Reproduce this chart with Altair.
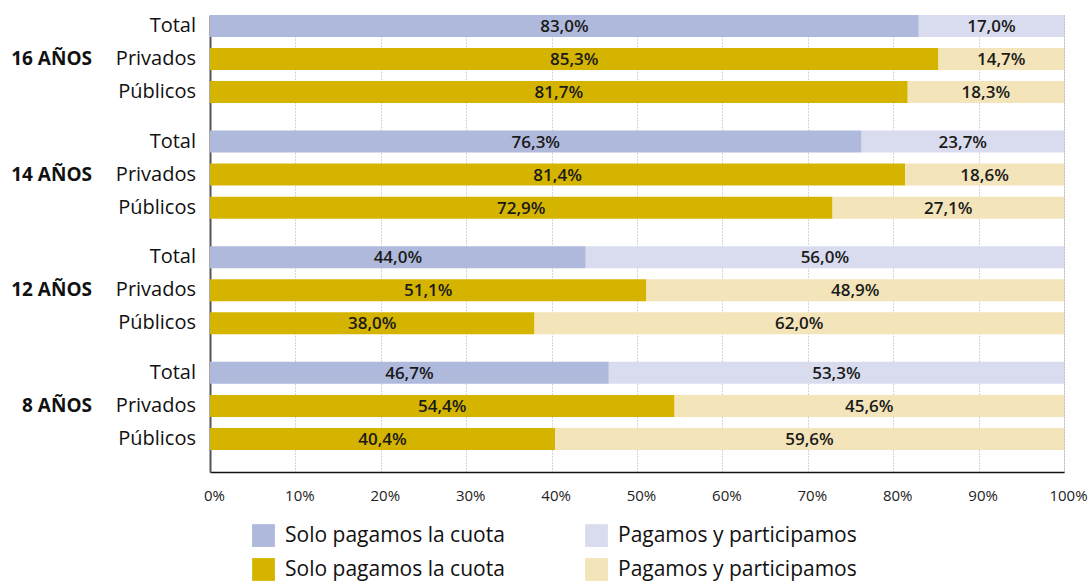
import altair as alt
import pandas as pd

groups = ["16 AÑOS", "14 AÑOS", "12 AÑOS", "8 AÑOS"]
rows = ["Total", "Privados", "Públicos"]
solo = [83.0, 85.3, 81.7, 76.3, 81.4, 72.9, 44.0, 51.1, 38.0, 46.7, 54.4, 40.4]
part = [17.0, 14.7, 18.3, 23.7, 18.6, 27.1, 56.0, 48.9, 62.0, 53.3, 45.6, 59.6]
x_ticks = [0, 10, 20, 30, 40, 50, 60, 70, 80, 90, 100]

keys = ["ts", "tp", "cs", "cp"]
colors = ["#afb9dc", "#d9dcee", "#d5b400", "#f3e4b9"]

GROUP_STEP = 3.5

def fmt(v):
    return f"{v:.1f}".replace(".", ",") + "%"

bar_recs, lab_recs, grp_recs = [], [], []
for gi, g in enumerate(groups):
    for ri, r in enumerate(rows):
        i = gi * 3 + ri
        pos = gi * GROUP_STEP + ri
        tot = r == "Total"
        s, p = solo[i], part[i]
        bar_recs.append(dict(pos=pos, x0=0, x1=s, key="ts" if tot else "cs", mid=s / 2, txt=fmt(s)))
        bar_recs.append(dict(pos=pos, x0=s, x1=s + p, key="tp" if tot else "cp", mid=s + p / 2, txt=fmt(p)))
        lab_recs.append(dict(pos=pos, lab=r))
    grp_recs.append(dict(pos=gi * GROUP_STEP + 1, lab=g))

bars_df = pd.DataFrame(bar_recs)
labs_df = pd.DataFrame(lab_recs)
grps_df = pd.DataFrame(grp_recs)

FONT = "Open Sans"
yscale = alt.Scale(domain=[-0.33, 13.5], reverse=True, nice=False, zero=False, padding=0)

legend = alt.Legend(
    title=None, orient="none", legendX=42, legendY=509, columns=2, direction="horizontal",
    symbolType="square", symbolSize=520, symbolStrokeWidth=0, symbolOpacity=1,
    labelFontSize=21, labelFont=FONT, labelColor="#111", labelOffset=10,
    columnPadding=80, rowPadding=11, labelLimit=400,
    labelExpr="(datum.value == 'ts' || datum.value == 'cs') ? 'Solo pagamos la cuota' : 'Pagamos y participamos'",
)

bars = alt.Chart(bars_df).mark_bar(size=22).encode(
    x=alt.X("x0:Q", scale=alt.Scale(domain=[0, 100], nice=False, padding=0),
            axis=alt.Axis(values=x_ticks, labelExpr="datum.value + '%'", title=None,
                          ticks=False, grid=True, gridDash=[1, 2], gridColor="#aaa",
                          gridWidth=1, domainColor="#111", domainWidth=1.5,
                          labelFontSize=15, labelFont=FONT, labelColor="#222",
                          labelPadding=16, labelFlush=False, labelOffset=4,
                          labelOverlap=False)),
    x2="x1:Q",
    y=alt.Y("pos:Q", scale=yscale,
            axis=alt.Axis(labels=False, ticks=False, grid=False, title=None,
                          domainColor="#555", domainWidth=2)),
    color=alt.Color("key:N", scale=alt.Scale(domain=keys, range=colors), legend=legend),
)

bar_text = alt.Chart(bars_df).mark_text(
    font=FONT, fontSize=17, fontWeight=600, color="#1a1a1a", baseline="middle", dy=1
).encode(
    x="mid:Q",
    y=alt.Y("pos:Q", scale=yscale),
    text="txt:N",
)

row_text = alt.Chart(labs_df).mark_text(
    font=FONT, fontSize=20, color="#111", align="right", baseline="middle"
).encode(
    x=alt.value(-14),
    y=alt.Y("pos:Q", scale=yscale),
    text="lab:N",
)

grp_text = alt.Chart(grps_df).mark_text(
    font=FONT, fontSize=19, fontWeight="bold", color="#111", align="right", baseline="middle"
).encode(
    x=alt.value(-118),
    y=alt.Y("pos:Q", scale=yscale),
    text="lab:N",
)

chart = alt.layer(bars, bar_text, row_text, grp_text).properties(
    width=854, height=457,
    autosize=alt.AutoSizeParams(type="none"),
    padding={"left": 210, "top": 15, "right": 28, "bottom": 111},
).configure_view(stroke=None).configure(background="white")

chart.save("out.html", embed_options={"renderer": "svg", "actions": False})
